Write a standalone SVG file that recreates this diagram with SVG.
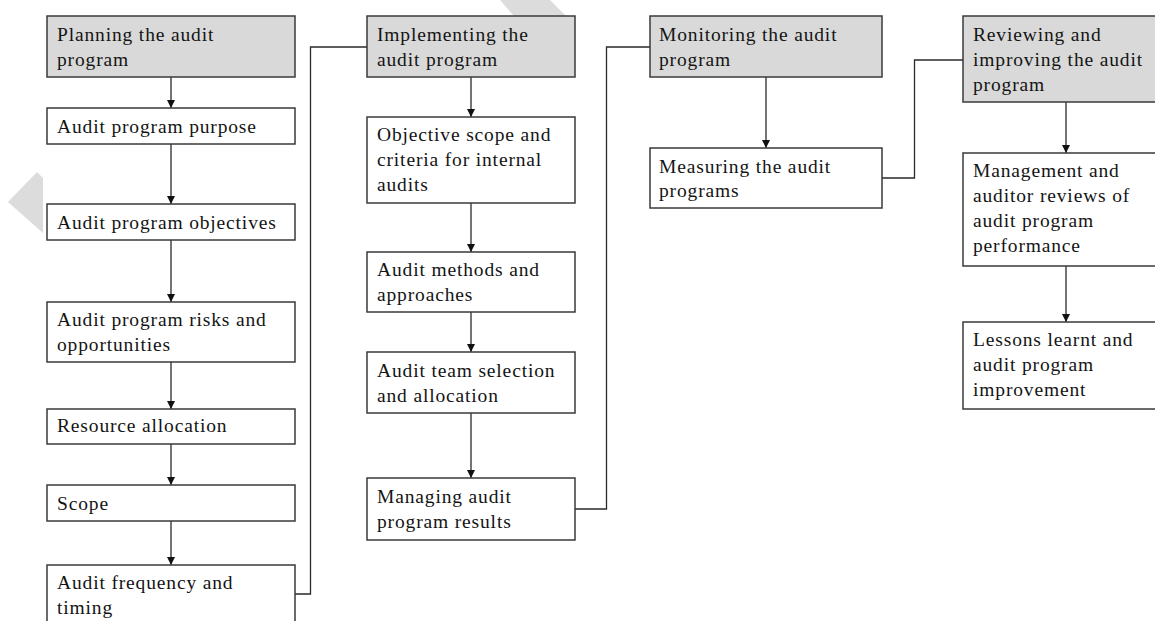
<svg xmlns="http://www.w3.org/2000/svg" width="1155" height="621" viewBox="0 0 1155 621">
  <style>
    .box { fill: #ffffff; stroke: #3a3a3a; stroke-width: 1.5; }
    .hdr { fill: #d9d9d9; stroke: #3a3a3a; stroke-width: 1.5; }
    .lbl { font-family: "Liberation Serif", "Times New Roman", serif; font-size: 19.5px; letter-spacing: 0.85px; fill: #141414; }
    .con { fill: none; stroke: #2a2a2a; stroke-width: 1.3; }
    .wm { fill: #dcdcdc; }
  </style>
  <defs>
    <marker id="arr" markerUnits="userSpaceOnUse" markerWidth="8" markerHeight="9" refX="8" refY="4" orient="auto" viewBox="0 0 8 8">
      <path d="M0,0 L8,4 L0,8 z" fill="#111"/>
    </marker>
  </defs>
  <rect width="1155" height="621" fill="#ffffff"/>

  <!-- background watermark fragments -->
  <g id="watermark">
    <polygon class="wm" points="8,202 37,172 43,178 43,233"/>
    <polygon class="wm" points="500,0 550,0 566,16 514,16"/>
  </g>

  <!-- connectors -->
  <g id="connectors">
    <line class="con" x1="171" y1="77" x2="171" y2="108" marker-end="url(#arr)"/>
    <line class="con" x1="171" y1="144" x2="171" y2="204" marker-end="url(#arr)"/>
    <line class="con" x1="171" y1="240" x2="171" y2="302" marker-end="url(#arr)"/>
    <line class="con" x1="171" y1="362" x2="171" y2="409" marker-end="url(#arr)"/>
    <line class="con" x1="171" y1="444" x2="171" y2="485" marker-end="url(#arr)"/>
    <line class="con" x1="171" y1="521" x2="171" y2="565" marker-end="url(#arr)"/>
    <polyline class="con" points="295,594 310.5,594 310.5,47 367,47"/>

    <line class="con" x1="471" y1="77" x2="471" y2="117" marker-end="url(#arr)"/>
    <line class="con" x1="471" y1="203" x2="471" y2="252" marker-end="url(#arr)"/>
    <line class="con" x1="471" y1="312" x2="471" y2="352" marker-end="url(#arr)"/>
    <line class="con" x1="471" y1="413" x2="471" y2="478" marker-end="url(#arr)"/>
    <polyline class="con" points="575,509 606.5,509 606.5,47 650,47"/>

    <line class="con" x1="766" y1="77" x2="766" y2="148" marker-end="url(#arr)"/>
    <polyline class="con" points="882,178 914.5,178 914.5,60 963,60"/>

    <line class="con" x1="1066" y1="102" x2="1066" y2="153" marker-end="url(#arr)"/>
    <line class="con" x1="1066" y1="266" x2="1066" y2="322" marker-end="url(#arr)"/>
  </g>

  <!-- column 1 -->
  <g id="planning">
    <rect class="hdr" x="47" y="16" width="248" height="61"/>
    <text class="lbl" x="57" y="41">Planning the audit</text>
    <text class="lbl" x="57" y="66">program</text>
  </g>
  <g id="purpose">
    <rect class="box" x="47" y="108" width="248" height="36"/>
    <text class="lbl" x="57" y="133">Audit program purpose</text>
  </g>
  <g id="objectives">
    <rect class="box" x="47" y="204" width="248" height="36"/>
    <text class="lbl" x="57" y="229">Audit program objectives</text>
  </g>
  <g id="risks">
    <rect class="box" x="47" y="302" width="248" height="60"/>
    <text class="lbl" x="57" y="326">Audit program risks and</text>
    <text class="lbl" x="57" y="351">opportunities</text>
  </g>
  <g id="resource">
    <rect class="box" x="47" y="409" width="248" height="35"/>
    <text class="lbl" x="57" y="432">Resource allocation</text>
  </g>
  <g id="scope">
    <rect class="box" x="47" y="485" width="248" height="36"/>
    <text class="lbl" x="57" y="510">Scope</text>
  </g>
  <g id="frequency">
    <rect class="box" x="47" y="565" width="248" height="70"/>
    <text class="lbl" x="57" y="589">Audit frequency and</text>
    <text class="lbl" x="57" y="614">timing</text>
  </g>

  <!-- column 2 -->
  <g id="implementing">
    <rect class="hdr" x="367" y="16" width="208" height="61"/>
    <text class="lbl" x="377" y="41">Implementing the</text>
    <text class="lbl" x="377" y="66">audit program</text>
  </g>
  <g id="objective-scope">
    <rect class="box" x="367" y="117" width="208" height="86"/>
    <text class="lbl" x="377" y="141">Objective scope and</text>
    <text class="lbl" x="377" y="166">criteria for internal</text>
    <text class="lbl" x="377" y="191">audits</text>
  </g>
  <g id="methods">
    <rect class="box" x="367" y="252" width="208" height="60"/>
    <text class="lbl" x="377" y="276">Audit methods and</text>
    <text class="lbl" x="377" y="301">approaches</text>
  </g>
  <g id="team">
    <rect class="box" x="367" y="352" width="208" height="61"/>
    <text class="lbl" x="377" y="377">Audit team selection</text>
    <text class="lbl" x="377" y="402">and allocation</text>
  </g>
  <g id="managing">
    <rect class="box" x="367" y="478" width="208" height="62"/>
    <text class="lbl" x="377" y="503">Managing audit</text>
    <text class="lbl" x="377" y="528">program results</text>
  </g>

  <!-- column 3 -->
  <g id="monitoring">
    <rect class="hdr" x="650" y="16" width="232" height="61"/>
    <text class="lbl" x="659" y="41">Monitoring the audit</text>
    <text class="lbl" x="659" y="66">program</text>
  </g>
  <g id="measuring">
    <rect class="box" x="650" y="148" width="232" height="60"/>
    <text class="lbl" x="659" y="173">Measuring the audit</text>
    <text class="lbl" x="659" y="197">programs</text>
  </g>

  <!-- column 4 -->
  <g id="reviewing">
    <rect class="hdr" x="963" y="16" width="210" height="86"/>
    <text class="lbl" x="973" y="41">Reviewing and</text>
    <text class="lbl" x="973" y="66">improving the audit</text>
    <text class="lbl" x="973" y="91">program</text>
  </g>
  <g id="management-reviews">
    <rect class="box" x="963" y="153" width="210" height="113"/>
    <text class="lbl" x="973" y="177">Management and</text>
    <text class="lbl" x="973" y="202">auditor reviews of</text>
    <text class="lbl" x="973" y="227">audit program</text>
    <text class="lbl" x="973" y="252">performance</text>
  </g>
  <g id="lessons">
    <rect class="box" x="963" y="322" width="210" height="87"/>
    <text class="lbl" x="973" y="346">Lessons learnt and</text>
    <text class="lbl" x="973" y="371">audit program</text>
    <text class="lbl" x="973" y="396">improvement</text>
  </g>
</svg>
